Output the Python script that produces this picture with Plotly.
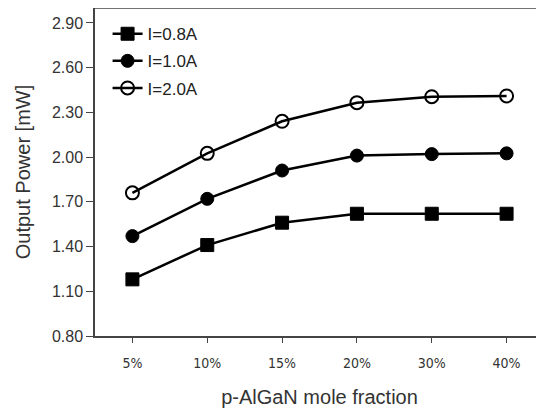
import plotly.graph_objects as go

categories = ["5%", "10%", "15%", "20%", "30%", "40%"]
series_names = ["I=0.8A", "I=1.0A", "I=2.0A"]
i08 = [1.18, 1.41, 1.56, 1.62, 1.62, 1.62]
i10 = [1.47, 1.72, 1.91, 2.01, 2.02, 2.025]
i20 = [1.76, 2.025, 2.24, 2.365, 2.405, 2.41]
y_ticks = [0.80, 1.10, 1.40, 1.70, 2.00, 2.30, 2.60, 2.90]

fig = go.Figure()
styles = [
    dict(symbol="square", size=13, color="black", line=dict(color="black", width=1)),
    dict(symbol="circle", size=13, color="black", line=dict(color="black", width=1)),
    dict(symbol="circle-open", size=13, color="black", line=dict(color="black", width=2)),
]
for name, vals, mk in zip(series_names, [i08, i10, i20], styles):
    fig.add_trace(go.Scatter(
        x=categories, y=vals, name=name, legendgroup=name,
        mode="lines+markers",
        line=dict(color="black", width=2.5),
        marker=mk,
    ))

# page body has an 8px default margin, so the figure is sized to fit the window
fig.update_layout(
    width=536, height=400,
    margin=dict(l=87, r=0, t=0, b=72),
    paper_bgcolor="white", plot_bgcolor="white",
    font=dict(family="Liberation Sans, Arial, sans-serif", color="#333333"),
    showlegend=True,
    legend=dict(x=0.028, y=0.975, xanchor="left", yanchor="top",
                bgcolor="rgba(0,0,0,0)", font=dict(size=17, color="#222222"),
                tracegroupgap=2, itemwidth=30),
)
fig.update_xaxes(
    type="category", range=[-0.5, 5.5], automargin=False,
    showline=True, linecolor="#444444", linewidth=1.5, mirror=False,
    ticks="outside", ticklen=5, tickcolor="#444444", ticklabelstandoff=8,
    tickfont=dict(size=14, family="DejaVu Sans Condensed, DejaVu Sans, sans-serif", color="#333333"),
    showgrid=False, zeroline=False,
    title=dict(text="p-AlGaN mole fraction", font=dict(size=20, color="#333333"), standoff=22),
)
fig.update_yaxes(
    range=[0.8, 3.0], tickvals=y_ticks, ticktext=[f"{v:.2f}" for v in y_ticks],
    automargin=False,
    showline=True, linecolor="#444444", linewidth=1.5, mirror=False,
    ticks="outside", ticklen=7, tickcolor="#444444",
    tickfont=dict(size=16, color="#333333"),
    showgrid=False, zeroline=False,
    title=dict(text="Output Power [mW]", font=dict(size=20, color="#333333"), standoff=16),
)
fig.add_shape(type="line", xref="paper", yref="paper", x0=0, x1=1, y0=1, y1=1,
              line=dict(color="#444444", width=1.5))

fig.write_html("out.html")
